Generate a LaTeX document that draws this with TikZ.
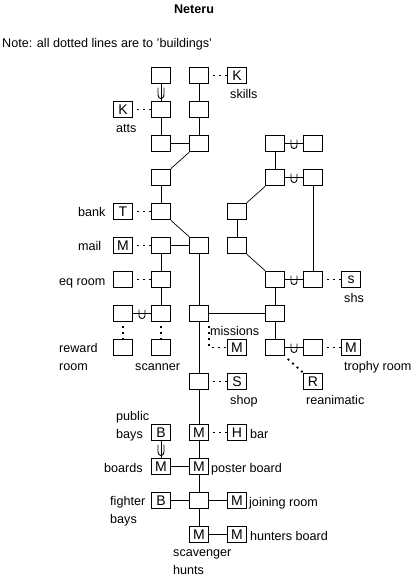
\documentclass[tikz,border=0pt]{standalone}
\usepackage{fontspec}
\setmainfont{Liberation Sans}
\tikzset{
    room/.style={draw,rectangle,line width=1pt,minimum width=18.5pt,minimum height=16.5pt,inner sep=0pt,font=\fontsize{14}{14}\selectfont},
    lbl/.style={anchor=base west,inner sep=0pt,align=left,font=\fontsize{12.6}{17.3}\selectfont},
    link/.style={line width=1pt},
    slant/.style={line width=.7pt},
    bldg/.style={line width=1.7pt,dash pattern=on 2pt off 4pt,dash phase=2pt},
    liftu/.pic={\draw[line width=.9pt] (-3,-4) -- (-3,2) .. controls (-3,6) and (3,6) .. (3,2) -- (3,-4);}
}
\begin{document}
\begin{tikzpicture}[x=1pt,y=-1pt]
    \useasboundingbox (0,0) rectangle (419,581);
    % titles
    \node[anchor=base,inner sep=0pt,font=\fontsize{12.6}{13}\selectfont\bfseries] (title) at (194,13){Neteru};
    \node[lbl] (note) at (2,47){Note: all dotted lines are to 'buildings'};
    % top group
    \node[room] (A1) at (161,75.5){};
    \node[room] (A2) at (199,75.5){};
    \node[room] (KS) at (237,75.5){K};
    \node[room] (KA) at (123,109.5){K};
    \node[room] (B1) at (161,109.5){};
    \node[room] (B2) at (199,109.5){};
    \node[room] (C1) at (161,143.5){};
    \node[room] (C2) at (199,143.5){};
    \node[room] (D1) at (161,177.5){};
    % left column
    \node[room] (T) at (123,211.5){T};
    \node[room] (E1) at (161,211.5){};
    \node[room] (ML) at (123,245.5){M};
    \node[room] (F1) at (161,245.5){};
    \node[room] (F2) at (199,245.5){};
    \node[room] (EQ) at (123,279.5){};
    \node[room] (G1) at (161,279.5){};
    \node[room] (H0) at (123,313.5){};
    \node[room] (H1) at (161,313.5){};
    \node[room] (H2) at (199,313.5){};
    \node[room] (RW) at (123,347.5){};
    \node[room] (SC) at (161,347.5){};
    % right group
    \node[room] (P1) at (275,143.5){};
    \node[room] (P2) at (313,143.5){};
    \node[room] (Q1) at (275,177.5){};
    \node[room] (Q2) at (313,177.5){};
    \node[room] (R0) at (237,211.5){};
    \node[room] (U0) at (237,245.5){};
    \node[room] (V1) at (275,279.5){};
    \node[room] (V2) at (313,279.5){};
    \node[room] (SH) at (351,279.5){s};
    \node[room] (W1) at (275,313.5){};
    \node[room] (MI) at (237,347.5){M};
    \node[room] (X1) at (275,347.5){};
    \node[room] (X2) at (313,347.5){};
    \node[room] (TR) at (351,347.5){M};
    \node[room] (RE) at (313,381.5){R};
    % bottom group
    \node[room] (Y1) at (199,381.5){};
    \node[room] (SP) at (237,381.5){S};
    \node[room] (PB) at (161,432.5){B};
    \node[room] (Z1) at (199,432.5){M};
    \node[room] (BR) at (237,432.5){H};
    \node[room] (BO) at (161,466.5){M};
    \node[room] (PO) at (199,466.5){M};
    \node[room] (FB) at (161,500.5){B};
    \node[room] (Z2) at (199,500.5){};
    \node[room] (JO) at (237,500.5){M};
    \node[room] (SV) at (199,534.5){M};
    \node[room] (HB) at (237,534.5){M};
    % labels
    \node[lbl] (lskills) at (230,98){skills};
    \node[lbl] (latts) at (116,132){atts};
    \node[lbl] (lbank) at (78,216){bank};
    \node[lbl] (lmail) at (78,250){mail};
    \node[lbl] (leq) at (59,285){eq room};
    \node[lbl] (lrw) at (59,370){reward\\room};
    \node[lbl] (lsc) at (135,370){scanner};
    \node[lbl] (lmi) at (210,335){missions};
    \node[lbl] (lsh) at (344,302){shs};
    \node[lbl] (ltr) at (344,370){trophy room};
    \node[lbl] (lsp) at (230,404){shop};
    \node[lbl] (lre) at (306,404){reanimatic};
    \node[lbl] (lpb) at (116,438){public\\bays};
    \node[lbl] (lbr) at (250,438){bar};
    \node[lbl] (lbo) at (104,472){boards};
    \node[lbl] (lpo) at (211,472){poster board};
    \node[lbl] (lfb) at (110,523){fighter\\bays};
    \node[lbl] (ljo) at (249,506){joining room};
    \node[lbl] (lhb) at (250,540){hunters board};
    \node[lbl] (lsv) at (173,574){scavenger\\hunts};
    % plain links
    \draw[link] (A2) to (B2);
    \draw[link] (B1) to (C1);
    \draw[link] (B2) to (C2);
    \draw[link] (C1) to (C2);
    \draw[link] (D1) to (E1);
    \draw[link] (F1) to (F2);
    \draw[link] (F1) to (G1);
    \draw[link] (G1) to (H1);
    \draw[link] (F2) to (H2);
    \draw[link] (H2) to (Y1);
    \draw[link] (H2) to (W1);
    \draw[link] (Y1) to (Z1);
    \draw[link] (Z1) to (PO);
    \draw[link] (BO) to (PO);
    \draw[link] (PO) to (Z2);
    \draw[link] (FB) to (Z2);
    \draw[link] (Z2) to (JO);
    \draw[link] (Z2) to (SV);
    \draw[link] (SV) to (HB);
    \draw[link] (P1) to (Q1);
    \draw[link] (R0) to (U0);
    \draw[link] (Q2) to (V2);
    \draw[link] (V1) to (W1);
    \draw[link] (W1) to (X1);
    % slanted links
    \draw[slant] (C2.south west) to (D1.north east);
    \draw[slant] (E1.south east) to (F2.north west);
    \draw[slant] (R0.north east) to (Q1.south west);
    \draw[slant] (U0.south east) to (V1.north west);
    % lifts
    \draw[link] (A1) -- pic[yscale=1.2]{liftu} (B1);
    \draw[link] (H0) -- pic{liftu} (H1);
    \draw[link] (P1) -- pic{liftu} (P2);
    \draw[link] (Q1) -- pic{liftu} (Q2);
    \draw[link] (V1) -- pic{liftu} (V2);
    \draw[link] (X1) -- pic{liftu} (X2);
    \draw[link] (PB) -- pic[yscale=1.2]{liftu} (BO);
    % dotted lines
    \draw[bldg] (A2) to (KS);
    \draw[bldg] (KA) to (B1);
    \draw[bldg] (T) to (E1);
    \draw[bldg] (ML) to (F1);
    \draw[bldg] (EQ) to (G1);
    \draw[bldg] (H0) to (RW);
    \draw[bldg] (H1) to (SC);
    \draw[bldg] (V2) to (SH);
    \draw[bldg] (X2) to (TR);
    \draw[bldg] (Y1) to (SP);
    \draw[bldg] (Z1) to (BR);
    \draw[bldg] (H2.south east) |- (MI);
    \draw[bldg] (X1.south east) to (RE.north west);
\end{tikzpicture}
\end{document}
